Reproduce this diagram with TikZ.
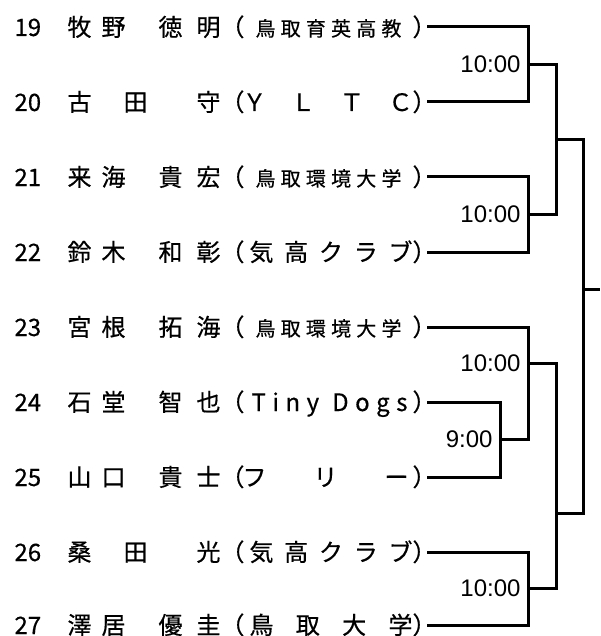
\documentclass[tikz,border=0pt]{standalone}
\usepackage{fontspec}
\setmainfont{Noto Sans CJK JP}
\newfontfamily\namefont{Noto Sans CJK JP}[FakeBold=0.5]
\newfontfamily\timefont{Liberation Sans}
\newcommand{\sm}[1]{\makebox[168pt][c]{\makebox[146pt][s]{\fontsize{20}{20}\selectfont #1}}}
\newcommand{\entrytext}[4]{\makebox[53pt][l]{#1}\makebox[80pt][s]{#2}\hspace{11pt}\makebox[62pt][s]{#3}\makebox[24pt][r]{（}\makebox[168pt][s]{#4}\makebox[13pt][l]{）}}

\begin{document}
\begin{tikzpicture}[x=1pt,y=-1pt,line width=3pt,
  entry/.style={anchor=west,inner sep=0pt,text height=20pt,text depth=2pt,font=\namefont\fontsize{24}{26}\selectfont},
  time/.style={anchor=east,inner sep=0pt,font=\timefont\fontsize{24}{26}\selectfont}]
\useasboundingbox (0,0) rectangle (600,636);
  \foreach \n/\y/\sn/\gn/\cl in {
    19/27/{牧\hspace{10pt}野\hfill}/{徳\hfill 明}/{\sm{鳥\hfill 取\hfill 育\hfill 英\hfill 高\hfill 教}},
    20/102/{古\hfill 田}/{\hfill 守}/{\hspace*{-2pt}Ｙ\hfill Ｌ\hfill Ｔ\hfill Ｃ},
    21/177/{来\hspace{10pt}海\hfill}/{貴\hfill 宏}/{\sm{鳥\hfill 取\hfill 環\hfill 境\hfill 大\hfill 学}},
    22/252/{鈴\hspace{10pt}木\hfill}/{和\hfill 彰}/{\hspace*{5pt}気\hfill 高\hfill ク\hfill ラ\hfill ブ},
    23/327/{宮\hspace{10pt}根\hfill}/{拓\hfill 海}/{\sm{鳥\hfill 取\hfill 環\hfill 境\hfill 大\hfill 学}},
    24/402/{石\hspace{10pt}堂\hfill}/{智\hfill 也}/{\hspace*{7pt}T\hfill i\hfill n\hfill y\hfill\hfill D\hfill o\hfill g\hfill s\hspace*{5pt}},
    25/477/{山\hspace{10pt}口\hfill}/{貴\hfill 士}/{\hspace*{-2pt}フ\hfill リ\hfill ー\hspace*{4pt}},
    26/552/{桑\hfill 田}/{\hfill 光}/{\hspace*{5pt}気\hfill 高\hfill ク\hfill ラ\hfill ブ},
    27/625/{澤\hspace{10pt}居\hfill}/{優\hfill 圭}/{\hspace*{5pt}鳥\hfill 取\hfill 大\hfill 学}}
  {  \node[entry] (r\n) at (13,\y) {\entrytext{\n}{\sn}{\gn}{\cl}};}
\coordinate (mA) at (528,64.5);
\coordinate (mB) at (528,214.5);
\coordinate (mC) at (556,140);
\coordinate (mD) at (500,439.5);
\coordinate (mE) at (528,363);
\coordinate (mF) at (528,588.5);
\coordinate (mG) at (556,513);
\coordinate (mH) at (583,289);
\coordinate (final) at (600,289);
\draw (r19.east) -| (mA) |- (r20.east);
\draw (r21.east) -| (mB) |- (r22.east);
\draw (mA) -| (mC) |- (mB);
\draw (r24.east) -| (mD) |- (r25.east);
\draw (r23.east) -| (mE) |- (mD);
\draw (r26.east) -| (mF) |- (r27.east);
\draw (mE) -| (mG) |- (mF);
\draw (mC) -| (mH) |- (mG);
\draw (mH) -- (final);
\node[time] (tA) at ([xshift=-6pt]mA) {10:00};
\node[time] (tB) at ([xshift=-6pt]mB) {10:00};
\node[time] (tD) at ([xshift=-6pt]mD) {9:00};
\node[time] (tE) at ([xshift=-6pt]mE) {10:00};
\node[time] (tF) at ([xshift=-6pt]mF) {10:00};
\end{tikzpicture}
\end{document}
